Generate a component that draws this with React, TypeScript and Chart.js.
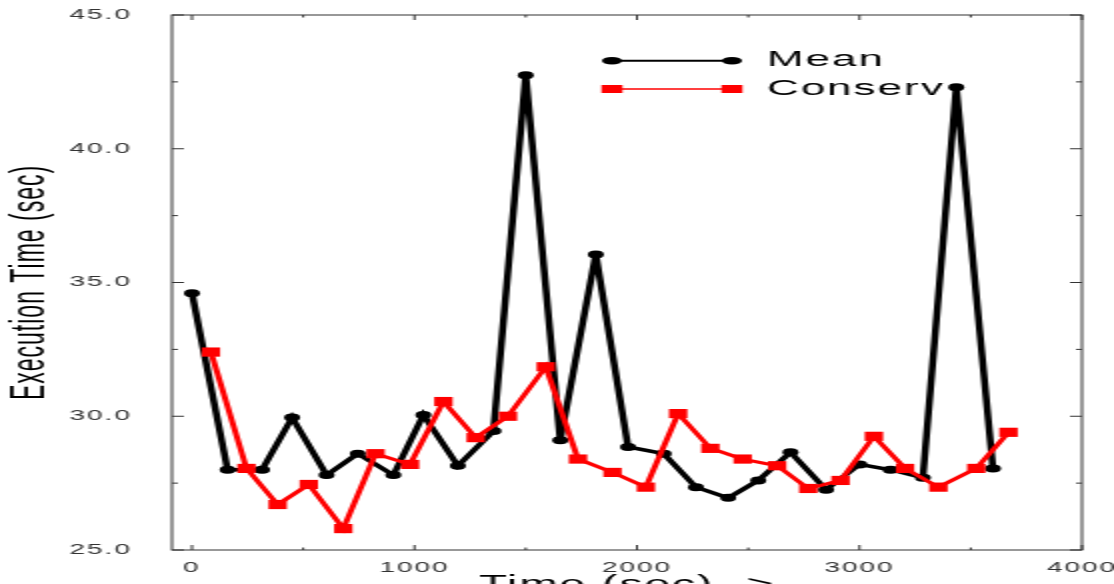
import React, { useEffect, useRef } from 'react';
import { Chart, registerables } from 'chart.js';

Chart.register(...registerables);

// ---- data ----
const seriesNames = ['Mean', 'Conserv'];

const meanX = [0, 160, 315, 450, 605, 745, 905, 1040, 1195, 1355, 1500, 1655, 1815, 1960, 2120, 2265, 2410, 2545, 2690, 2850, 3000, 3140, 3285, 3435, 3600];
const meanY = [34.6, 28.0, 28.0, 29.95, 27.8, 28.6, 27.8, 30.05, 28.15, 29.45, 42.75, 29.1, 36.05, 28.85, 28.6, 27.35, 26.95, 27.6, 28.65, 27.25, 28.2, 28.0, 27.7, 42.3, 28.05];

const consX = [85, 245, 385, 525, 680, 825, 980, 1130, 1275, 1420, 1590, 1735, 1890, 2040, 2185, 2330, 2475, 2630, 2770, 2915, 3065, 3205, 3355, 3525, 3670];
const consY = [32.4, 28.05, 26.7, 27.45, 25.8, 28.6, 28.2, 30.55, 29.2, 30.0, 31.85, 28.4, 27.9, 27.35, 30.1, 28.8, 28.4, 28.15, 27.3, 27.6, 29.25, 28.05, 27.35, 28.05, 29.4];

const xTickValues = [0, 500, 1000, 1500, 2000, 2500, 3000, 3500, 4000];
const xMajorTicks = [0, 1000, 2000, 3000, 4000];
const yMajorTicks = [25, 30, 35, 40, 45];

const xTitle = 'Time (sec) ->';
const yTitle = 'Execution Time (sec)';

const W = 557;
const H = 610;

const spacingPlugin = {
  id: 'spacing',
  beforeDraw(chart: any) {
    (chart.ctx as any).letterSpacing = '1px';
  },
};

const legendPlugin = {
  id: 'customLegend',
  beforeDatasetsDraw(chart: any) {
    const ctx = chart.ctx;
    ctx.save();
    // Mean
    ctx.strokeStyle = '#000';
    ctx.lineWidth = 2;
    ctx.beginPath();
    ctx.moveTo(306, 60.7);
    ctx.lineTo(366, 60.7);
    ctx.stroke();
    ctx.fillStyle = '#000';
    [306, 366].forEach((cx) => {
      ctx.beginPath();
      ctx.ellipse(cx, 60.7, 5, 3.8, 0, 0, Math.PI * 2);
      ctx.fill();
    });
    // Conserv
    ctx.strokeStyle = '#ff0000';
    ctx.lineWidth = 1.5;
    ctx.beginPath();
    ctx.moveTo(306, 89);
    ctx.lineTo(366, 89);
    ctx.stroke();
    ctx.fillStyle = '#ff0000';
    [306, 366].forEach((cx) => {
      ctx.fillRect(cx - 5.25, 85, 10.5, 8);
    });
    ctx.fillStyle = '#000';
    ctx.font = '22px "Liberation Sans", Arial, sans-serif';
    ctx.textBaseline = 'middle';
    ctx.textAlign = 'left';
    (ctx as any).letterSpacing = '1px';
    ctx.fillText(seriesNames[0], 383.5, 60);
    ctx.fillText(seriesNames[1], 383.5, 88.5);
    ctx.restore();
  },
};

const frameTicksPlugin = {
  id: 'frameTicks',
  afterDatasetsDraw(chart: any) {
    const { ctx, chartArea: a, scales } = chart;
    const x = scales.x;
    const y = scales.y;
    ctx.save();
    ctx.strokeStyle = '#333';
    ctx.lineWidth = 1;
    ctx.strokeRect(a.left, a.top, a.right - a.left, a.bottom - a.top);
    ctx.beginPath();
    x.ticks.forEach((t: any) => {
      const px = x.getPixelForValue(t.value);
      const len = xMajorTicks.includes(t.value) ? 5 : 2.5;
      ctx.moveTo(px, a.bottom);
      ctx.lineTo(px, a.bottom - len);
      ctx.moveTo(px, a.top);
      ctx.lineTo(px, a.top + len);
    });
    y.ticks.forEach((t: any) => {
      const py = y.getPixelForValue(t.value);
      const len = yMajorTicks.includes(t.value) ? 6 : 3;
      ctx.moveTo(a.left, py);
      ctx.lineTo(a.left + len, py);
      ctx.moveTo(a.right, py);
      ctx.lineTo(a.right - len, py);
    });
    ctx.stroke();
    ctx.restore();
  },
};

export default function App() {
  const canvasRef = useRef<HTMLCanvasElement | null>(null);

  useEffect(() => {
    if (!canvasRef.current) return;
    const chart = new Chart(canvasRef.current, {
      type: 'line',
      data: {
        datasets: [
          {
            label: seriesNames[0],
            data: meanX.map((v, i) => ({ x: v, y: meanY[i] })),
            borderColor: '#000',
            backgroundColor: '#000',
            borderWidth: 3.5,
            pointStyle: 'circle',
            pointRadius: 4,
            pointBorderWidth: 0,
            tension: 0,
            borderJoinStyle: 'miter',
            order: 2,
          },
          {
            label: seriesNames[1],
            data: consX.map((v, i) => ({ x: v, y: consY[i] })),
            borderColor: '#ff0000',
            backgroundColor: '#ff0000',
            borderWidth: 3,
            pointStyle: 'rect',
            pointRadius: 6.5,
            pointBorderWidth: 0,
            tension: 0,
            borderJoinStyle: 'miter',
            order: 1,
          },
        ],
      },
      options: {
        animation: false,
        responsive: false,
        maintainAspectRatio: false,
        events: [],
        layout: { padding: { left: 0, top: 15, right: 16, bottom: 0 } },
        plugins: {
          legend: { display: false },
          tooltip: { enabled: false },
        },
        scales: {
          x: {
            type: 'linear',
            min: -90,
            max: 4000,
            grid: { display: false },
            border: { display: false },
            afterBuildTicks: (s: any) => {
              s.ticks = xTickValues.map((v) => ({ value: v }));
            },
            ticks: {
              autoSkip: false,
              maxRotation: 0,
              padding: 1.5,
              color: '#333',
              font: { family: '"Liberation Sans", Arial, sans-serif', size: 14 },
              callback: (v: any) => (xMajorTicks.includes(Number(v)) ? String(v) : ''),
            },
            title: {
              display: true,
              text: xTitle,
              color: '#000',
              font: { family: '"Liberation Sans", Arial, sans-serif', size: 23 },
              padding: { top: 0, bottom: 10.5 },
            },
            afterFit: (s: any) => {
              s.height = 60;
              s.paddingLeft = 0;
              s.paddingRight = 0;
            },
          },
          y: {
            type: 'linear',
            min: 25,
            max: 45,
            grid: { display: false },
            border: { display: false },
            ticks: {
              stepSize: 2.5,
              autoSkip: false,
              padding: 12,
              color: '#333',
              font: { family: '"Liberation Sans", Arial, sans-serif', size: 14 },
              callback: (v: any) => (yMajorTicks.includes(Number(v)) ? Number(v).toFixed(1) : ''),
            },
            title: {
              display: true,
              text: yTitle,
              color: '#000',
              font: { family: '"Liberation Sans", Arial, sans-serif', size: 23 },
              padding: { top: 2, bottom: 0 },
            },
            afterFit: (s: any) => {
              s.width = 86;
              s.paddingTop = 0;
              s.paddingBottom = 0;
            },
          },
        },
      } as any,
      plugins: [spacingPlugin, legendPlugin, frameTicksPlugin],
    });
    return () => chart.destroy();
  }, []);

  return (
    <div
      style={{
        position: 'fixed',
        left: 0,
        top: 0,
        width: 1114,
        height: 584,
        overflow: 'hidden',
        background: '#fff',
      }}
    >
      <div style={{ width: W, height: H, transform: 'scaleX(2)', transformOrigin: '0 0' }}>
        <canvas ref={canvasRef} width={W} height={H} style={{ width: W, height: H, display: 'block' }} />
      </div>
    </div>
  );
}
